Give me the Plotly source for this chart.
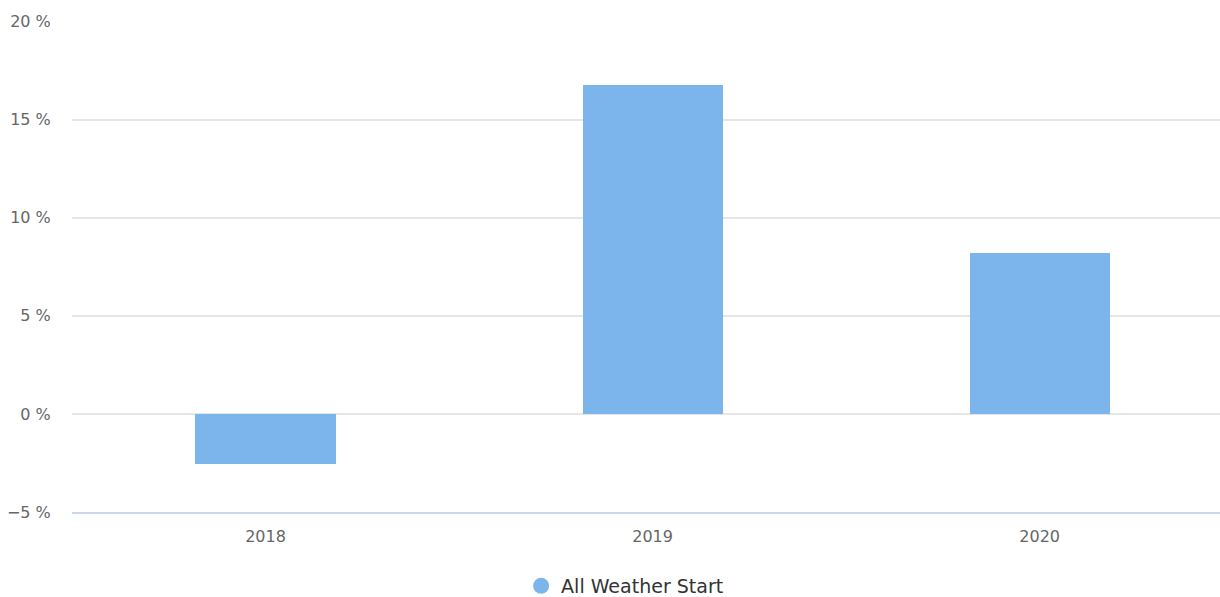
import plotly.graph_objects as go

categories = ["2018", "2019", "2020"]
values = [-2.55, 16.77, 8.2]
series_name = "All Weather Start"
y_ticks = [-5, 0, 5, 10, 15, 20]

BAR_COLOR = "#7cb5ec"
FONT = "DejaVu Sans"

y_ticktext = [("\u2212" if v < 0 else "") + f"{abs(v)} %" for v in y_ticks]

fig = go.Figure()
fig.add_trace(go.Bar(
    x=list(range(len(categories))), y=values, marker_color=BAR_COLOR,
    marker_line_width=0,
    width=0.362, showlegend=False, legendgroup="s", name=series_name,
))
fig.add_trace(go.Scatter(
    x=[None], y=[None], mode="markers", name=series_name, legendgroup="s",
    marker=dict(symbol="circle", size=18, color=BAR_COLOR),
))

# figure is taller than the window so the legend box never pushes the margins;
# the part below the window is hidden
fig.update_layout(
    width=1220, height=620,
    margin=dict(l=72, r=0, t=21, b=108),
    plot_bgcolor="white", paper_bgcolor="white",
    font=dict(family=FONT, color="#666666", size=16),
    xaxis=dict(
        tickmode="array", tickvals=list(range(len(categories))), ticktext=categories,
        range=[-0.5, 2.466], showgrid=False, zeroline=False, automargin=False,
        showline=True, linecolor="#ccd6eb", linewidth=1.5,
        ticks="outside", ticklen=9, tickcolor="rgba(0,0,0,0)",
        tickfont=dict(size=16, color="#666666"),
    ),
    yaxis=dict(
        range=[-5, 20.03], tickmode="array", tickvals=y_ticks, ticktext=y_ticktext,
        showgrid=True, gridcolor="#e6e6e6", gridwidth=1.5, zeroline=False,
        automargin=False,
        ticks="outside", ticklen=17, tickcolor="rgba(0,0,0,0)",
        tickfont=dict(size=16, color="#666666"),
    ),
    legend=dict(
        orientation="h", x=0.4818, xanchor="center", y=-0.1507, yanchor="middle",
        font=dict(size=19, color="#333333"), itemwidth=30,
    ),
    bargap=0,
)

fig.write_html(
    "out.html",
    config={"displayModeBar": False},
    post_script="document.body.style.margin='0';document.body.style.overflow='hidden';",
)
